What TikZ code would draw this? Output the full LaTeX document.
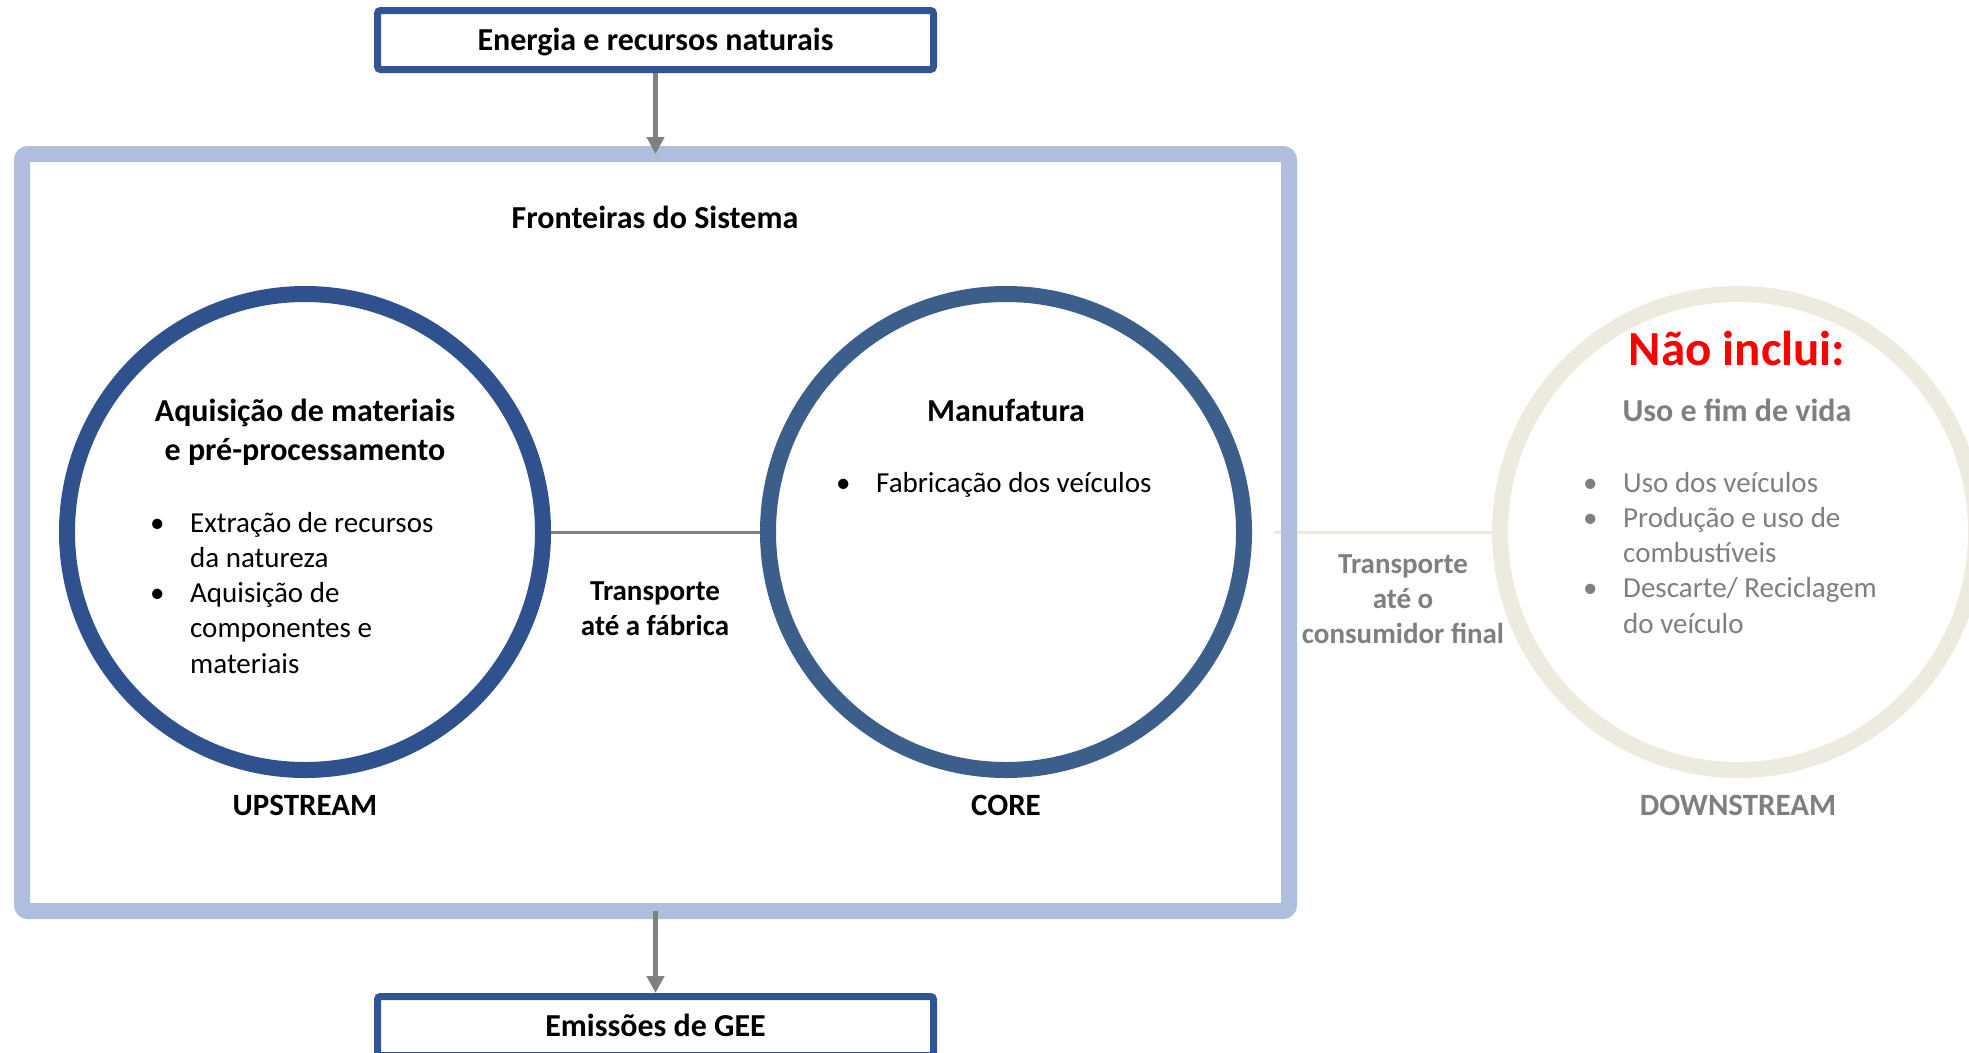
\documentclass[tikz,border=0pt]{standalone}
\usepackage{fontspec}
\setmainfont{Carlito}
\usetikzlibrary{arrows.meta}
\definecolor{boxblue}{RGB}{47,85,151}
\definecolor{upblue}{RGB}{47,82,143}
\definecolor{coreblue}{RGB}{59,94,139}
\definecolor{bndblue}{RGB}{175,189,222}
\definecolor{downbeige}{RGB}{237,235,224}
\definecolor{arrgray}{RGB}{128,128,128}
\definecolor{txtgray}{RGB}{127,127,127}
\definecolor{redtxt}{RGB}{255,0,0}
\pgfdeclarelayer{bg}
\pgfsetlayers{bg,main}
\newcommand{\myB}{\fontsize{32}{39}\selectfont\bfseries}
\newcommand{\myT}{\fontsize{29}{35}\selectfont\bfseries}
\newcommand{\myR}{\fontsize{29}{35.3}\selectfont}
\newcommand{\myL}{\fontsize{31}{37}\selectfont\bfseries}
\newcommand{\myBig}{\fontsize{49}{58}\selectfont\bfseries}
\newcommand{\bul}{\llap{\makebox[40pt][l]{•}}}
\begin{document}
\begin{tikzpicture}[x=1pt,y=-1pt,
  boxnode/.style={draw=boxblue, line width=7pt, rounded corners=3pt, minimum width=556pt,
    minimum height=59pt, inner sep=0pt, fill=white, font=\myB, text height=24pt, text depth=4pt},
  bndnode/.style={draw=bndblue, line width=16pt, rounded corners=6pt, minimum width=1267pt,
    minimum height=757pt, outer sep=0pt, inner sep=0pt},
  ring/.style={circle, line width=16pt, minimum size=476pt, inner sep=0pt},
  arr/.style={draw=arrgray, line width=5pt, -{Triangle[width=17pt,length=17pt]}},
  lbl/.style={inner sep=0pt, anchor=base},
  itemlist/.style={inner sep=0pt, anchor=base west, font=\myR},
  link/.style={line width=3pt}]
\useasboundingbox (0,0) rectangle (1969,1052);
\begin{pgfonlayer}{bg}
\fill[white] (0,0) rectangle (1969,1052);
\end{pgfonlayer}

% system boundary
\node[bndnode] (bnd) at (655.5,532.5) {};

% stage circles
\node[ring, draw=upblue] (c1) at (305,532) {};
\node[ring, draw=coreblue] (c2) at (1006,532) {};
\node[ring, draw=downbeige] (c3) at (1738,532) {};
\coordinate (lt) at (1274,532);

% input / output boxes
\node[boxnode] (top) at (655.5,40) {Energia e recursos naturais};
\node[boxnode] (bot) at (655.5,1026) {Emissões de GEE};

% connectors
\begin{pgfonlayer}{bg}
\draw[link, draw=arrgray] (c1.east) -- (c2.west);
\draw[link, draw=downbeige] (lt) -- (c3.west);
\end{pgfonlayer}
\draw[arr] (top.south) -- (top.south |- bnd.north);
\draw[arr] (bnd.south -| bot.north) -- (bot.north);

% texts
\node[lbl, font=\myB] (fr) at (655,228) {Fronteiras do Sistema};

\node[lbl, font=\myB] (t1) at (305,421) {\begin{tabular}[t]{@{}c@{}}Aquisição de materiais\\ e pré-processamento\end{tabular}};
\node[itemlist] (l1) at (190,532) {\begin{tabular}[t]{@{}l@{}}\bul Extração de recursos\\ da natureza\\ \bul Aquisição de\\ componentes e\\ materiais\end{tabular}};

\node[lbl, font=\myB] (t2) at (1006,421) {Manufatura};
\node[itemlist] (l2) at (876,492) {\begin{tabular}[t]{@{}l@{}}\bul Fabricação dos veículos\end{tabular}};

\node[lbl, font=\myT] (tr1) at (655,600) {\begin{tabular}[t]{@{}c@{}}Transporte\\ até a fábrica\end{tabular}};

\node[lbl, font=\myBig, text=redtxt] (nao) at (1737,365) {Não inclui:};
\node[lbl, font=\myB, text=txtgray] (t3) at (1737,421) {Uso e fim de vida};
\node[itemlist, text=txtgray] (l3) at (1623,492) {\begin{tabular}[t]{@{}l@{}}\bul Uso dos veículos\\ \bul Produção e uso de\\ combustíveis\\ \bul Descarte/ Reciclagem\\ do veículo\end{tabular}};

\node[lbl, font=\myT, text=txtgray] (tr2) at (1403,573) {\begin{tabular}[t]{@{}c@{}}Transporte\\ até o\\ consumidor final\end{tabular}};

\node[lbl, font=\myL] (up) at (305,815) {UPSTREAM};
\node[lbl, font=\myL] (co) at (1006,815) {CORE};
\node[lbl, font=\myL, text=txtgray] (dn) at (1738,815) {DOWNSTREAM};
\end{tikzpicture}
\end{document}
